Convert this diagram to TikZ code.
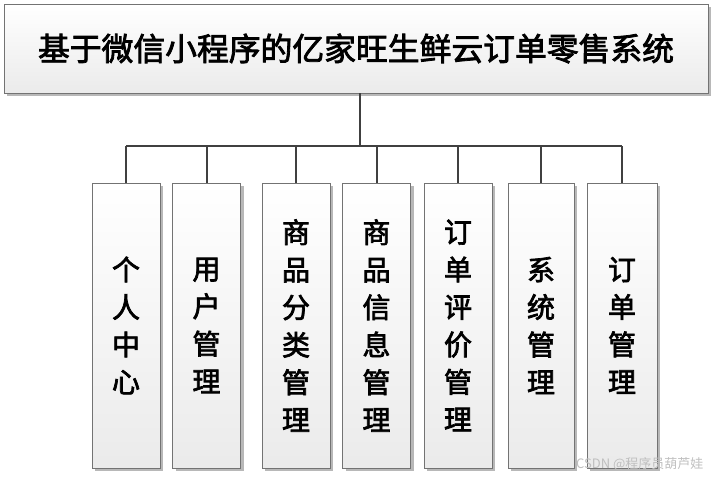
\documentclass[tikz,border=0pt]{standalone}
\usepackage{fontspec}
\newfontfamily\cjk{Noto Sans CJK SC}
\newfontfamily\cjkb{Noto Sans CJK SC}[FakeBold=2.5]
\usetikzlibrary{shadows}
\tikzset{
  mbox/.style={draw=black!55, line width=0.9pt, top color=white, bottom color=black!8,
    drop shadow={shadow xshift=3pt, shadow yshift=-3pt, fill=black!35, opacity=0.8},
    inner sep=0pt, font=\cjkb},
  cbox/.style={mbox, minimum width=68pt, minimum height=285pt, align=center,
    font=\cjkb\fontsize{28pt}{37.5pt}\selectfont},
  conn/.style={draw=black!75, line width=2pt}
}
\begin{document}
\begin{tikzpicture}[x=1pt,y=-1pt]
\useasboundingbox (0,0) rectangle (716,478);
\node[mbox, minimum width=704pt, minimum height=89pt, font=\cjkb\fontsize{31.8pt}{34pt}\selectfont] (top) at (356,48.5) {基于微信小程序的亿家旺生鲜云订单零售系统};
\node[cbox] (c1) at (126,325.5) {个\\人\\中\\心};
\node[cbox] (c2) at (206.5,325.5) {用\\户\\管\\理};
\node[cbox] (c3) at (296,325.5) {商\\品\\分\\类\\管\\理};
\node[cbox] (c4) at (376.5,325.5) {商\\品\\信\\息\\管\\理};
\node[cbox] (c5) at (458,325.5) {订\\单\\评\\价\\管\\理};
\node[cbox, minimum width=66pt] (c6) at (541,325.5) {系\\统\\管\\理};
\node[cbox, minimum width=70pt] (c7) at (622,325.5) {订\\单\\管\\理};
\coordinate (bus) at (360,146);
\draw[conn] (top.south -| bus) -- (bus);
\draw[conn] (c1.north |- bus) -- (c7.north |- bus);
\foreach \n in {c1,c2,c3,c4,c5,c6,c7}{
  \draw[conn] (\n.north) -- (\n.north |- bus);
}
\node[text=black!25, font=\cjk\fontsize{13pt}{14pt}\selectfont, anchor=east] (wm) at (707,464) {CSDN @程序员葫芦娃};
\end{tikzpicture}
\end{document}
